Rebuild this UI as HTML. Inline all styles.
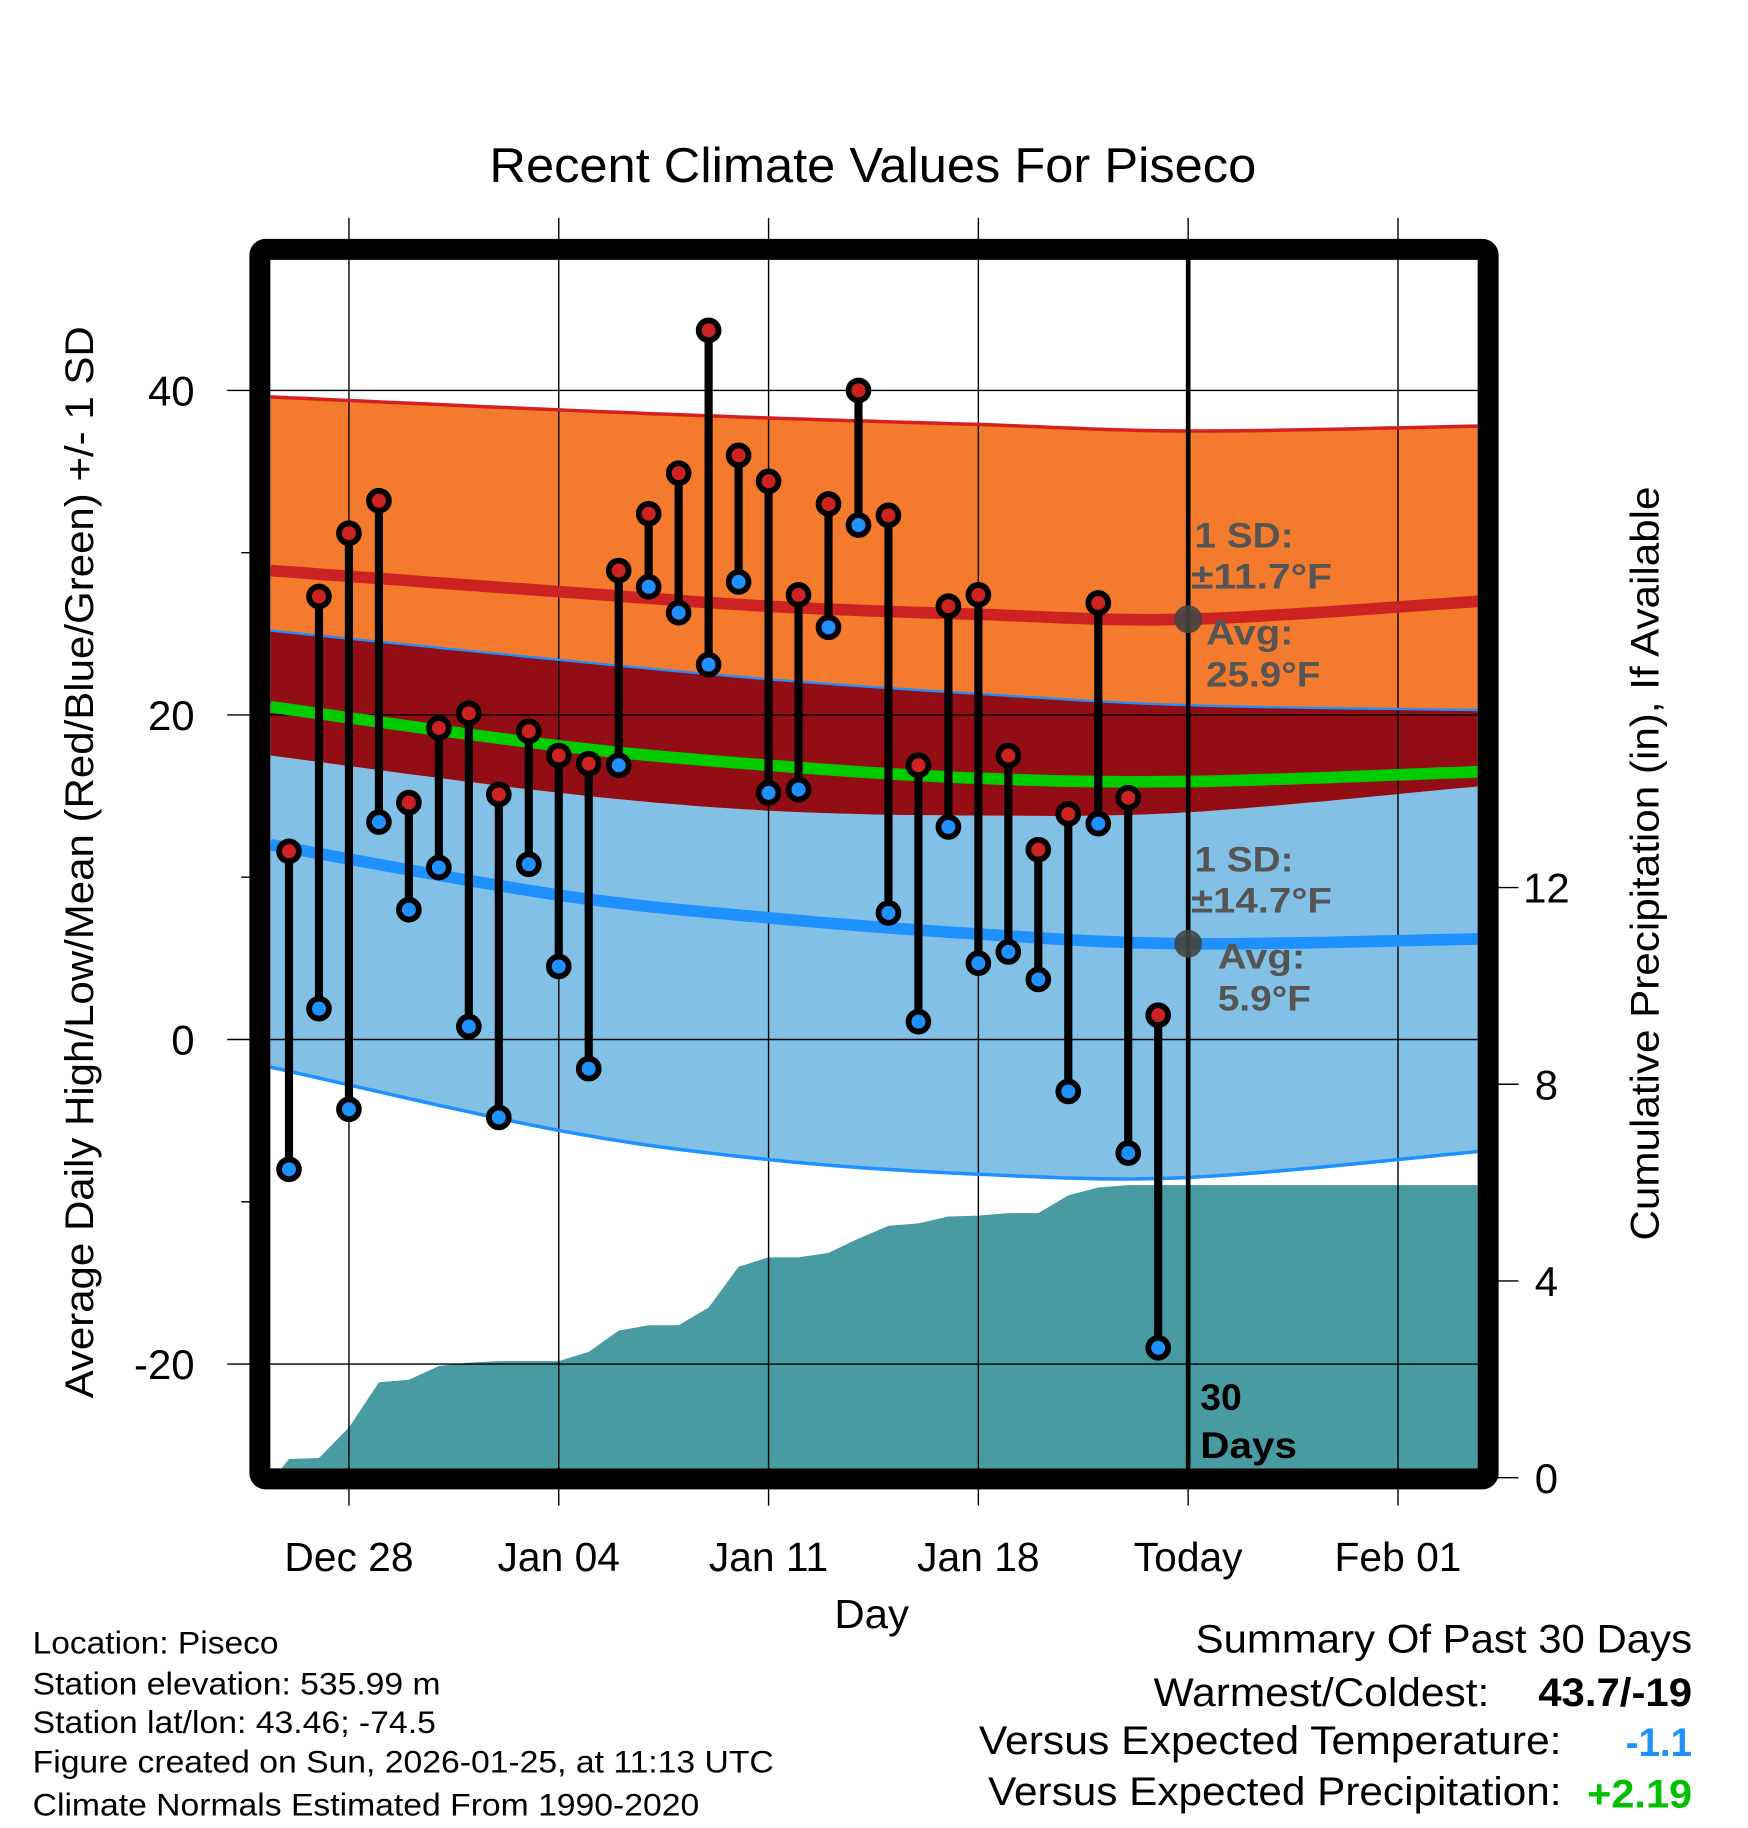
<!DOCTYPE html>
<html><head><meta charset="utf-8"><style>html,body{margin:0;padding:0;background:#fff}svg{display:block}text{font-family:"Liberation Sans",sans-serif}</style></head>
<body>
<svg id="chart" width="1748" height="1828" viewBox="0 0 1500 1568.6" preserveAspectRatio="none" xmlns="http://www.w3.org/2000/svg">
<defs><clipPath id="plotclip"><rect x="232" y="222" width="1036" height="1038"/></clipPath></defs>
<rect x="0" y="0" width="1500" height="1569" fill="#fff"/>
<g id="bands" clip-path="url(#plotclip)"></g>
<g id="precip" clip-path="url(#plotclip)"></g>
<g id="grid"></g>
<g id="lines" clip-path="url(#plotclip)"></g>
<g id="marks"></g>
<rect x="223" y="214" width="1054" height="1055" rx="5" fill="none" stroke="#000" stroke-width="18"/>
<g id="ticks"></g>
<g id="annot">
<text x="1025" y="470" font-size="30" font-weight="bold" fill="#555" textLength="85" lengthAdjust="spacingAndGlyphs">1 SD:</text>
<text x="1022" y="505" font-size="30" font-weight="bold" fill="#555" textLength="121" lengthAdjust="spacingAndGlyphs">±11.7°F</text>
<text x="1035" y="553" font-size="30" font-weight="bold" fill="#555" textLength="75" lengthAdjust="spacingAndGlyphs">Avg:</text>
<text x="1035" y="589" font-size="30" font-weight="bold" fill="#555" textLength="98" lengthAdjust="spacingAndGlyphs">25.9°F</text>
<text x="1025" y="748" font-size="30" font-weight="bold" fill="#555" textLength="85" lengthAdjust="spacingAndGlyphs">1 SD:</text>
<text x="1022" y="783" font-size="30" font-weight="bold" fill="#555" textLength="121" lengthAdjust="spacingAndGlyphs">±14.7°F</text>
<text x="1045" y="831" font-size="30" font-weight="bold" fill="#555" textLength="75" lengthAdjust="spacingAndGlyphs">Avg:</text>
<text x="1045" y="867" font-size="30" font-weight="bold" fill="#555" textLength="80" lengthAdjust="spacingAndGlyphs">5.9°F</text>
<text x="1030" y="1210" font-size="32" font-weight="bold" fill="#000">30</text>
<text x="1030" y="1251" font-size="32" font-weight="bold" fill="#000" textLength="83" lengthAdjust="spacingAndGlyphs">Days</text>
</g>
<text x="420" y="156" font-size="42" textLength="658" lengthAdjust="spacingAndGlyphs">Recent Climate Values For Piseco</text>
<text x="716" y="1397" font-size="35" textLength="64" lengthAdjust="spacingAndGlyphs">Day</text>
<text transform="translate(80,740) rotate(-90)" text-anchor="middle" font-size="34" textLength="920" lengthAdjust="spacingAndGlyphs">Average Daily High/Low/Mean (Red/Blue/Green) +/- 1 SD</text>
<text transform="translate(1423,741) rotate(-90)" text-anchor="middle" font-size="34" textLength="647" lengthAdjust="spacingAndGlyphs">Cumulative Precipitation (in), If Available</text>
<g font-size="27">
<text x="28" y="1419" textLength="211" lengthAdjust="spacingAndGlyphs">Location: Piseco</text>
<text x="28" y="1454" textLength="350" lengthAdjust="spacingAndGlyphs">Station elevation: 535.99 m</text>
<text x="28" y="1487" textLength="346" lengthAdjust="spacingAndGlyphs">Station lat/lon: 43.46; -74.5</text>
<text x="28" y="1521" textLength="636" lengthAdjust="spacingAndGlyphs">Figure created on Sun, 2026-01-25, at 11:13 UTC</text>
<text x="28" y="1558" textLength="572" lengthAdjust="spacingAndGlyphs">Climate Normals Estimated From 1990-2020</text>
</g>
<g font-size="34">
<text x="1026" y="1418" textLength="426" lengthAdjust="spacingAndGlyphs">Summary Of Past 30 Days</text>
<text x="990" y="1464" textLength="288" lengthAdjust="spacingAndGlyphs">Warmest/Coldest:</text>
<text x="1320" y="1464" font-weight="bold" textLength="132" lengthAdjust="spacingAndGlyphs">43.7/-19</text>
<text x="840" y="1505" textLength="500" lengthAdjust="spacingAndGlyphs">Versus Expected Temperature:</text>
<text x="1395" y="1507" font-weight="bold" fill="#1e90ff" textLength="57" lengthAdjust="spacingAndGlyphs">-1.1</text>
<text x="848" y="1549" textLength="492" lengthAdjust="spacingAndGlyphs">Versus Expected Precipitation:</text>
<text x="1362" y="1551" font-weight="bold" fill="#00c000" textLength="90" lengthAdjust="spacingAndGlyphs">+2.19</text>
</g>
</svg>
<script>
// ---- data ----
const highs = [11.6,27.3,31.2,33.2,14.6,19.2,20.1,15.1,19.0,17.5,17.0,28.9,32.4,34.9,43.7,36.0,34.4,27.4,33.0,40.0,32.3,16.9,26.7,27.4,17.5,11.7,13.9,26.9,14.9,1.5];
const lows = [-8.0,1.9,-4.3,13.4,8.0,10.6,0.8,-4.8,10.8,4.5,-1.8,16.9,27.9,26.3,23.1,28.2,15.2,15.4,25.4,31.7,7.8,1.1,13.1,4.7,5.4,3.7,-3.2,13.3,-7.0,-19.0];
const precip = [0.38,0.40,1.02,1.94,1.99,2.27,2.34,2.37,2.37,2.37,2.56,2.99,3.10,3.10,3.46,4.29,4.48,4.48,4.57,4.86,5.12,5.17,5.31,5.33,5.38,5.38,5.74,5.90,5.95,5.95];
const normDays = [-0.62,9,16,23,30,39.7];
const highPlusSD = [39.6,38.8,38.3,37.9,37.5,37.8];
const highMean = [28.9,27.6,26.7,26.2,25.9,27.0];
const highMinusSD = [25.2,23.4,22.2,21.3,20.6,20.3];
const dailyMean = [20.5,18.1,16.9,16.1,15.9,16.5];
const lowPlusSD = [17.5,15.2,14.1,13.8,14.0,15.6];
const lowMean = [12.0,8.9,7.5,6.5,5.9,6.2];
const lowMinusSD = [-1.7,-5.6,-7.4,-8.3,-8.5,-6.9];
const xTickDays = [2,9,16,23,30,37];
const xTickLabels = ["Dec 28","Jan 04","Jan 11","Jan 18","Today","Feb 01"];
const yTicks = [40,20,0,-20];
const yMinor = [30,10,-10];
const pTicks = [0,4,8,12];
const todayIndex = 30;
const todayHighAvg = 25.9, todayLowAvg = 5.9;

// ---- scales ----
const X = d => 248 + d*25.72;
const Y = v => 892 - v*13.925;
const PY = p => 1268 - p*42.2;
const NS = "http://www.w3.org/2000/svg";
function mk(tag, attrs, parent){const e=document.createElementNS(NS,tag);for(const k in attrs)e.setAttribute(k,attrs[k]);parent.appendChild(e);return e;}
// smooth curve (Catmull-Rom) through normal points
function smoothPts(arr){
  const P=normDays.map((d,i)=>[X(d),Y(arr[i])]);
  const out=[];
  for(let i=0;i<P.length-1;i++){
    const p0=P[Math.max(0,i-1)],p1=P[i],p2=P[i+1],p3=P[Math.min(P.length-1,i+2)];
    for(let s=0;s<16;s++){
      const t=s/16,t2=t*t,t3=t2*t;
      const f=(a,b,c,d)=>0.5*((2*b)+(-a+c)*t+(2*a-5*b+4*c-d)*t2+(-a+3*b-3*c+d)*t3);
      out.push(f(p0[0],p1[0],p2[0],p3[0]).toFixed(1)+","+f(p0[1],p1[1],p2[1],p3[1]).toFixed(1));
    }
  }
  const L=P[P.length-1];out.push(L[0].toFixed(1)+","+L[1].toFixed(1));
  return out;
}
function bandPath(top,bot){const a=smoothPts(top);const b=smoothPts(bot).reverse();return "M"+a.join("L")+"L"+b.join("L")+"Z";}

const bands=document.getElementById('bands');
let e;
e=mk('path',{d:bandPath(highPlusSD,highMinusSD),fill:'#f47a2e'},bands);


e=mk('path',{d:bandPath(lowPlusSD,lowMinusSD),fill:'#82c0e6'},bands);


e=mk('path',{d:bandPath(highMinusSD,lowPlusSD),fill:'#930e14'},bands);



// precip area
const pg=document.getElementById('precip');
let pd="M"+X(-0.5)+","+PY(0)+"L"+X(0)+","+PY(precip[0]);
precip.forEach((p,i)=>{pd+="L"+X(i).toFixed(1)+","+PY(p).toFixed(1);});
pd+="L"+X(40)+","+PY(precip[precip.length-1])+"L"+X(40)+","+PY(-1)+"L"+X(-0.5)+","+PY(-1)+"Z";
e=mk('path',{d:pd,fill:'#489aa3'},pg);



// normal lines
const lg=document.getElementById('lines');
function pl(arr,color,w,name){const l=mk('polyline',{points:smoothPts(arr).join(" "),fill:'none',stroke:color,'stroke-width':w},lg);

}
pl(highPlusSD,'#d42020',3,'high-plus-sd-line');
pl(highMinusSD,'#1e90ff',2,'high-minus-sd-line');
pl(lowMinusSD,'#1e90ff',3,'low-minus-sd-line');
pl(highMean,'#cc2222',10,'high-mean-line');
pl(dailyMean,'#00cc00',10,'daily-mean-line');
pl(lowMean,'#1e90ff',10,'low-mean-line');

// grid
const gg=document.getElementById('grid');
xTickDays.forEach((d,i)=>{
 const ln=mk('line',{x1:X(d),x2:X(d),y1:187,y2:1292,stroke:'#000','stroke-width':1.2},gg);
 
 
 const t=mk('text',{x:X(d),y:1348,'text-anchor':'middle','font-size':35},gg);
 t.textContent=xTickLabels[i];
 
 
});
yTicks.forEach(v=>{
 const ln=mk('line',{x1:195,x2:1268,y1:Y(v),y2:Y(v),stroke:'#000','stroke-width':1.2},gg);
 
 
 const t=mk('text',{x:167,y:Y(v)+13,'text-anchor':'end','font-size':36},gg);
 t.textContent=String(v);
 
 
});
yMinor.forEach(v=>{
 const ln=mk('line',{x1:207,x2:224,y1:Y(v),y2:Y(v),stroke:'#000','stroke-width':1.2},gg);
 
 
});
const tk=document.getElementById('ticks');
pTicks.forEach(p=>{
 const ln=mk('line',{x1:1280,x2:1303,y1:PY(p),y2:PY(p),stroke:'#000','stroke-width':1.2},tk);
 
 
 const t=mk('text',{x:1327,y:PY(p)+13,'text-anchor':'middle','font-size':36},tk);
 t.textContent=String(p);
 
 
});

// marks
const mg=document.getElementById('marks');
const tl=mk('line',{x1:X(todayIndex),x2:X(todayIndex),y1:222,y2:1260,stroke:'#000','stroke-width':4},mg);


highs.forEach((h,i)=>{
 const x=X(i);
 const s=mk('line',{x1:x,x2:x,y1:Y(h),y2:Y(lows[i]),stroke:'#000','stroke-width':7},mg);
 
 
 const c1=mk('circle',{cx:x,cy:Y(h),r:8.5,fill:'#cc2222',stroke:'#000','stroke-width':5},mg);
 
 
 const c2=mk('circle',{cx:x,cy:Y(lows[i]),r:8.5,fill:'#1e90ff',stroke:'#000','stroke-width':5},mg);
 
 
});
let d1=mk('circle',{cx:X(todayIndex),cy:Y(todayHighAvg),r:12,fill:'#444','fill-opacity':0.9},mg);


let d2=mk('circle',{cx:X(todayIndex),cy:Y(todayLowAvg),r:12,fill:'#444','fill-opacity':0.9},mg);


</script>
</body></html>
